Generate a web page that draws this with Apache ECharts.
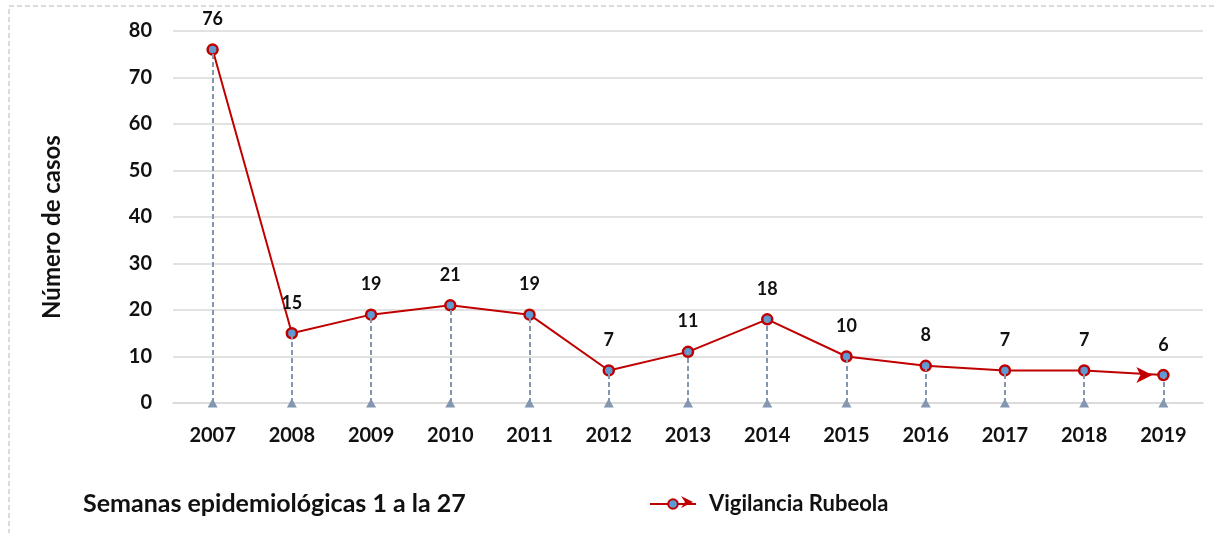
<!DOCTYPE html>
<html><head><meta charset="utf-8">
<script src="https://cdn.jsdelivr.net/npm/echarts@6/dist/echarts.min.js"></script>
<style>html,body{margin:0;padding:0;background:#fff}#c{width:1214px;height:533px}</style>
</head><body><div id="c"></div>
<script>
const years = ['2007','2008','2009','2010','2011','2012','2013','2014','2015','2016','2017','2018','2019'];
const casos = [76, 15, 19, 21, 19, 7, 11, 18, 10, 8, 7, 7, 6];
const yTicks = {min: 0, max: 80, interval: 10};
const seriesName = 'Vigilancia Rubeola';
const yTitle = 'Número de casos';
const footNote = 'Semanas epidemiológicas 1 a la 27';

const FONT = 'Lato, "Open Sans", sans-serif';
const chart = echarts.init(document.getElementById('c'), null, {renderer: 'canvas'});
chart.setOption({
  animation: false,
  backgroundColor: '#fff',
  grid: {left: 173, right: 11, top: 31, bottom: 130},
  legend: {
    data: [seriesName], left: 644, top: 488, itemWidth: 46, itemHeight: 12, itemGap: 6,
    textStyle: {fontFamily: FONT, fontSize: 22, fontWeight: 'bold', color: '#111', padding: [0, 0, 0, 8]}
  },
  graphic: [
    {type: 'rect', shape: {x: 9, y: 6, width: 1300, height: 600},
     style: {fill: 'none', stroke: '#cfcfcf', lineWidth: 1.5, lineDash: [5, 3]}, silent: true},
    {type: 'text', left: 83, top: 491,
     style: {text: footNote, fontFamily: FONT, fontSize: 25, fontWeight: 'bold', fill: '#111'}},
    {type: 'polygon', silent: true, z: 100,
     shape: {points: [[681, 496], [693, 502], [681, 508], [685, 502]]},
     style: {fill: '#c00000'}}
  ],
  xAxis: {
    type: 'category', data: years, boundaryGap: true,
    axisLine: {lineStyle: {color: '#d9d9d9', width: 1.5}},
    axisTick: {show: false},
    axisLabel: {margin: 23, fontFamily: FONT, fontSize: 20, fontWeight: 'bold', color: '#111'}
  },
  yAxis: {
    type: 'value', min: yTicks.min, max: yTicks.max, interval: yTicks.interval,
    name: yTitle, nameLocation: 'middle', nameGap: 109, nameRotate: 90,
    nameTextStyle: {fontFamily: FONT, fontSize: 24, fontWeight: 'bold', color: '#111', padding: [0, 20, 0, 0]},
    axisLine: {show: false}, axisTick: {show: false},
    axisLabel: {margin: 21, fontFamily: FONT, fontSize: 20, fontWeight: 'bold', color: '#111'},
    splitLine: {lineStyle: {color: '#d9d9d9', width: 1.5}}
  },
  series: [{
    name: seriesName, type: 'line', data: casos,
    symbol: 'circle', symbolSize: 10,
    lineStyle: {color: '#c00000', width: 2},
    itemStyle: {color: '#5b9bd5', borderColor: '#c00000', borderWidth: 2.5},
    label: {show: true, position: 'top', distance: 15, fontFamily: FONT, fontSize: 18, fontWeight: 'bold', color: '#111'},
    z: 3,
    markLine: {
      silent: true, symbol: ['triangle', 'none'], symbolSize: [10, 9], symbolRotate: [0, 0],
      label: {show: false}, emphasis: {disabled: true},
      lineStyle: {color: '#8497b0', type: [5, 3], width: 2},
      data: casos.map((v, i) => [{coord: [i, 0]}, {coord: [i, v]}])
    },
    markPoint: {
      silent: true, symbol: 'arrow', symbolSize: [12, 16], symbolRotate: -90, symbolOffset: [-11, 0],
      label: {show: false}, itemStyle: {color: '#c00000'},
      data: [{coord: [casos.length - 1, casos[casos.length - 1]]}]
    }
  }]
});
</script></body></html>
